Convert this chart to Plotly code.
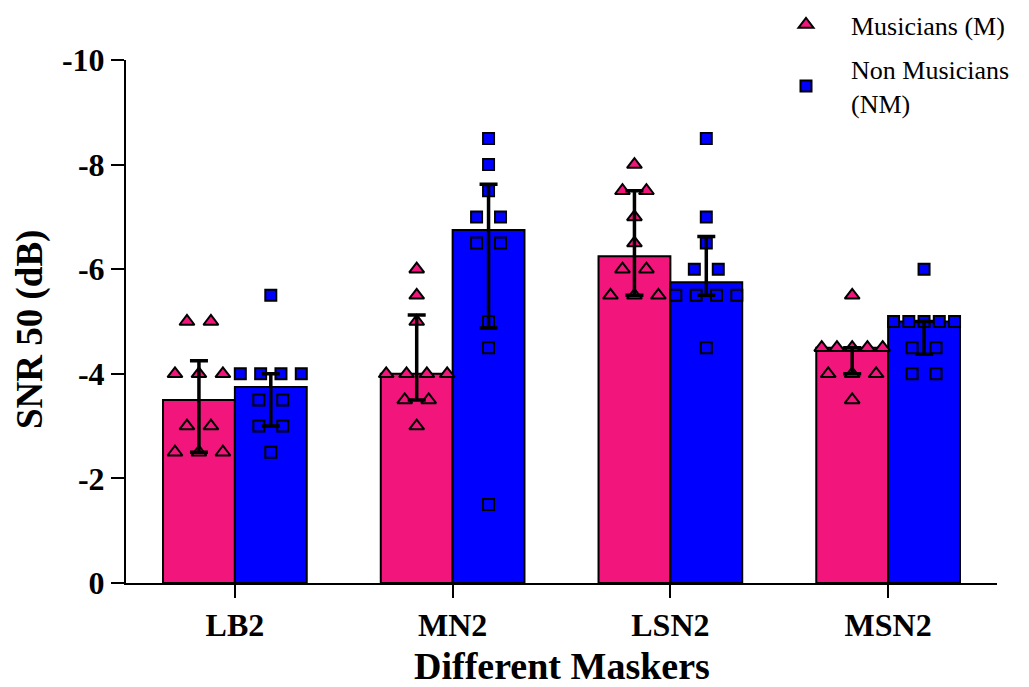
import numpy as np
import plotly.graph_objects as go

categories = ["LB2", "MN2", "LSN2", "MSN2"]

musicians = {
    "LB2": [-5, -5, -4, -4, -4, -3, -3, -2.5, -2.5, -2.5],
    "MN2": [-6, -5.5, -5, -4, -4, -4, -4, -3.5, -3.5, -3],
    "LSN2": [-8, -7.5, -7.5, -7, -6.5, -6, -6, -5.5, -5.5, -5.5],
    "MSN2": [-5.5, -4.5, -4.5, -4.5, -4.5, -4.5, -4, -4, -4, -3.5],
}
non_musicians = {
    "LB2": [-5.5, -4, -4, -4, -4, -3.5, -3.5, -3, -3, -2.5],
    "MN2": [-8.5, -8, -7.5, -7, -7, -6.5, -6.5, -5, -4.5, -1.5],
    "LSN2": [-8.5, -7, -6.5, -6, -6, -5.5, -5.5, -5.5, -5.5, -4.5],
    "MSN2": [-6, -5, -5, -5, -5, -5, -4.5, -4.5, -4, -4],
}

y_ticks = [0, -2, -4, -6, -8, -10]
y_ticktext = ["0", "-2", "-4", "-6", "-8", "-10"]

PINK = "#F2167C"
BLUE = "#0000FF"
SERIF = "Liberation Serif"

BAR_W = 0.33
OFF = BAR_W / 2

# figure geometry (pixels)
W, H = 1029, 687
M_L, M_T, M_B = 126, 60, 104
AXIS_RIGHT = 997
AREA_W = W - M_L           # right margin 0, x-domain shortened instead
AREA_H = H - M_T - M_B
X_DOMAIN_END = (AXIS_RIGHT - M_L) / AREA_W


def px_x(px):
    return (px - M_L) / AREA_W


def px_y(py):
    return (H - M_B - py) / AREA_H


def jitter(vals, step=0.110, maxhalf=0.14):
    vals = np.asarray(vals, dtype=float)
    off = np.zeros(len(vals))
    for v in np.unique(vals):
        idx = np.where(vals == v)[0]
        n = len(idx)
        if n > 1:
            sp = min(step, 2 * maxhalf / (n - 1))
            off[idx] = (np.arange(n) - (n - 1) / 2) * sp
    return off


def stats(d):
    """median with interquartile range (Weibull / (n+1) quartiles)"""
    med, q1s, q3s = [], [], []
    for c in categories:
        v = np.asarray(d[c], dtype=float)
        med.append(np.median(v))
        q1s.append(np.percentile(v, 25, method="weibull"))
        q3s.append(np.percentile(v, 75, method="weibull"))
    med = np.array(med)
    lo = np.minimum(q1s, q3s)
    hi = np.maximum(q1s, q3s)
    # plus = towards larger values, minus = towards smaller values
    return med, hi - med, med - lo


fig = go.Figure()

series = [
    ("Musicians (M)", musicians, PINK, -OFF, "triangle-up", 13, "m"),
    ("Non Musicians<br>(NM)", non_musicians, BLUE, OFF, "square", 11, "nm"),
]

xc = np.arange(len(categories))

# bars (median)
for name, d, col, off, sym, sz, grp in series:
    med, ep, em = stats(d)
    fig.add_trace(go.Bar(
        x=xc + off, y=med, width=BAR_W,
        marker=dict(color=col, line=dict(color="black", width=2)),
        showlegend=False, hoverinfo="skip",
    ))

# individual points
for name, d, col, off, sym, sz, grp in series:
    xs, ys = [], []
    for i, c in enumerate(categories):
        j = jitter(d[c])
        xs.extend(list(i + off + j))
        ys.extend(d[c])
    fig.add_trace(go.Scatter(
        x=xs, y=ys, mode="markers", name=name, legendgroup=grp,
        marker=dict(symbol=sym, size=sz, color=col,
                    line=dict(color="black", width=2)),
    ))

# error bars (interquartile range)
for name, d, col, off, sym, sz, grp in series:
    med, ep, em = stats(d)
    fig.add_trace(go.Scatter(
        x=xc + off, y=med, mode="markers",
        marker=dict(size=1, color="rgba(0,0,0,0)"),
        error_y=dict(type="data", symmetric=False, array=ep, arrayminus=em,
                     color="black", thickness=3.5, width=9),
        showlegend=False, hoverinfo="skip",
    ))

fig.update_layout(
    width=W, height=H,
    margin=dict(l=M_L, r=0, t=M_T, b=M_B),
    paper_bgcolor="white", plot_bgcolor="white",
    barmode="overlay",
    font=dict(family=SERIF, color="black"),
    xaxis=dict(
        domain=[0, X_DOMAIN_END],
        range=[-0.5, 3.5], tickvals=list(xc), ticktext=categories,
        showline=True, linecolor="black", linewidth=2,
        ticks="outside", ticklen=13, tickwidth=2, tickcolor="black",
        tickfont=dict(family=SERIF, size=32, weight="bold"),
        showgrid=False, zeroline=False, automargin=False,
    ),
    yaxis=dict(
        range=[0, -10], tickvals=y_ticks, ticktext=y_ticktext,
        showline=True, linecolor="black", linewidth=2,
        ticks="outside", ticklen=13, tickwidth=2, tickcolor="black",
        tickfont=dict(family=SERIF, size=32, weight="bold"),
        showgrid=False, zeroline=False, automargin=False,
    ),
    legend=dict(
        x=px_x(761), y=px_y(1), xanchor="left", yanchor="top",
        font=dict(family=SERIF, size=26),
        bgcolor="rgba(0,0,0,0)", itemwidth=80,
        tracegroupgap=8,
    ),
    annotations=[
        dict(text="<b>Different Maskers</b>", xref="paper", yref="paper",
             x=px_x(562), y=px_y(666), xanchor="center", yanchor="middle",
             showarrow=False, font=dict(family=SERIF, size=38)),
        dict(text="<b>SNR 50 (dB)</b>", xref="paper", yref="paper",
             x=px_x(30), y=px_y(330), xanchor="center", yanchor="middle",
             textangle=-90, showarrow=False,
             font=dict(family=SERIF, size=37)),
    ],
)

fig.write_html("out.html")
